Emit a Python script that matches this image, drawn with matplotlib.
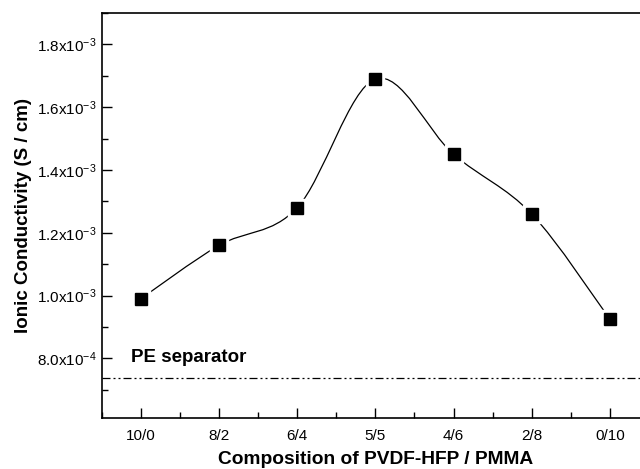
import numpy as np
import matplotlib
matplotlib.use("Agg")
import matplotlib.pyplot as plt
from matplotlib.path import Path
from matplotlib.patches import PathPatch
from matplotlib.ticker import MultipleLocator, FuncFormatter

plt.rcParams["font.family"] = ["Liberation Sans", "DejaVu Sans"]
plt.rcParams["mathtext.fontset"] = "custom"
plt.rcParams["mathtext.rm"] = "Liberation Sans"
plt.rcParams["mathtext.it"] = "Liberation Sans"

# ---------- data ----------
compositions = ["10/0", "8/2", "6/4", "5/5", "4/6", "2/8", "0/10"]
conductivity = [0.99e-3, 1.16e-3, 1.28e-3, 1.69e-3, 1.45e-3, 1.26e-3, 0.925e-3]
pe_separator = 7.37e-4


def smooth_path(x, y, tension=1 / 6):
    """Catmull-Rom style cubic Bezier path through the points."""
    x = np.asarray(x, float)
    y = np.asarray(y, float)
    verts = [(x[0], y[0])]
    codes = [Path.MOVETO]
    n = len(x)
    for i in range(n - 1):
        p0 = i - 1 if i > 0 else i
        p3 = i + 2 if i + 2 < n else i + 1
        c1 = (x[i] + (x[i + 1] - x[p0]) * tension, y[i] + (y[i + 1] - y[p0]) * tension)
        c2 = (x[i + 1] - (x[p3] - x[i]) * tension, y[i + 1] - (y[p3] - y[i]) * tension)
        verts += [c1, c2, (x[i + 1], y[i + 1])]
        codes += [Path.CURVE4] * 3
    return Path(verts, codes)


def sci_label(v, pos):
    if v <= 0:
        return ""
    exp = int(np.floor(np.log10(v) + 1e-9))
    mant = v / 10 ** exp
    return f"{mant:.1f}x10$^{{{exp}}}$"


fig = plt.figure(figsize=(6.4, 4.69), dpi=100)
ax = fig.add_axes([0.159, 0.1087, 0.855, 0.8635])

xs = np.arange(1, len(compositions) + 1)

ax.add_patch(PathPatch(smooth_path(xs, conductivity), fill=False, lw=0.9,
                       edgecolor="black", zorder=2))
# white halo gives the gap between curve and symbol
ax.plot(xs, conductivity, "s", ms=13, color="white", zorder=3)
ax.plot(xs, conductivity, "s", ms=8.5, color="black", zorder=4)

ax.axhline(pe_separator, color="black", lw=0.9,
           dashes=[6.4, 2.4, 1.6, 2.4, 1.6, 2.4])
ax.text(1.0 - 0.13, pe_separator + 0.4e-4, "PE separator", fontsize=13.5,
        fontweight="bold", va="bottom", ha="left")

ax.set_xlim(0.5, 7.5)
ax.set_ylim(6.1e-4, 1.9e-3)
ax.set_xticks(xs)
ax.set_xticklabels(compositions)
ax.xaxis.set_minor_locator(MultipleLocator(0.5))
ax.yaxis.set_major_locator(MultipleLocator(2e-4))
ax.yaxis.set_minor_locator(MultipleLocator(1e-4))
ax.yaxis.set_major_formatter(FuncFormatter(sci_label))

ax.tick_params(which="both", direction="in", top=False, right=False, labelsize=11)
ax.tick_params(which="major", length=7, width=1)
ax.tick_params(which="minor", length=4, width=1)
ax.tick_params(axis="x", pad=8)
for s in ax.spines.values():
    s.set_linewidth(1.2)

ax.set_xlabel("Composition of PVDF-HFP / PMMA", fontsize=13.8, fontweight="bold", labelpad=5.5)
ax.set_ylabel("Ionic Conductivity (S / cm)", fontsize=13.5, fontweight="bold", labelpad=4)

fig.savefig("out.png", dpi=100)
